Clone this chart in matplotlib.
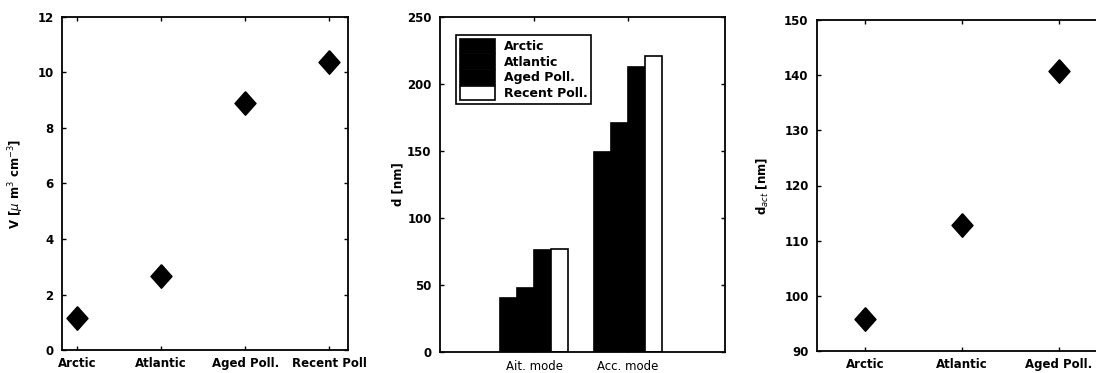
import matplotlib.pyplot as plt
import numpy as np

plt.rcParams['font.family'] = ['DejaVu Sans']

# air mass categories
masses = ['Arctic', 'Atlantic', 'Aged Poll.', 'Recent Poll']
volume = [1.16, 2.65, 8.9, 10.37]  # V [um^3 cm^-3]

modes = ['Ait. mode', 'Acc. mode']
legend_names = ['Arctic', 'Atlantic', 'Aged Poll.', 'Recent Poll.']
d_arctic = [40, 149]
d_atlantic = [48, 171]
d_aged = [76, 213]
d_recent = [77, 221]

act_masses = ['Arctic', 'Atlantic', 'Aged Poll.']
d_act = [95.8, 112.8, 140.8]

# slightly tall diamond like the matlab marker
diamond = [(0, 1), (0.89, 0), (0, -1), (-0.89, 0), (0, 1)]

fig = plt.figure(figsize=(10.96, 3.73), dpi=100)


def style_axes(ax, bold_x=True):
    ax.tick_params(direction='in', length=3, width=1, top=True, right=True,
                   labelsize=8.5, pad=6)
    for lab in ax.get_yticklabels():
        lab.set_fontweight('bold')
    if bold_x:
        for lab in ax.get_xticklabels():
            lab.set_fontweight('bold')
    for s in ax.spines.values():
        s.set_linewidth(1.3)


# panel 1: volume
ax1 = fig.add_axes([62 / 1096, 23 / 373, 286 / 1096, 333 / 373])
x1 = np.arange(1, len(masses) + 1)
ax1.plot(x1, volume, marker=diamond, color='k', ms=17, linestyle='none')
ax1.set_xlim(0.82, 4.22)
ax1.set_ylim(0, 12)
ax1.set_yticks(range(0, 13, 2))
ax1.set_xticks(x1)
ax1.set_xticklabels(masses)
ax1.set_ylabel(r'V [$\mu$ m$^3$ cm$^{-3}$]', fontsize=8.5, fontweight='bold')
ax1.yaxis.set_label_coords(-0.125, 0.5)
style_axes(ax1)
ax1.tick_params(axis='x', pad=5)

# panel 2: mode diameters
ax2 = fig.add_axes([440 / 1096, 21 / 373, 285 / 1096, 335 / 373])
x2 = np.arange(1, len(modes) + 1)
w = 0.18
series = [d_arctic, d_atlantic, d_aged, d_recent]
colors = ['k', 'k', 'k', 'white']
for i, (vals, c, name) in enumerate(zip(series, colors, legend_names)):
    ax2.bar(x2 + (i - 1.5) * w, vals, width=w, color=c, edgecolor='k',
            linewidth=1.2, label=name)
ax2.set_xlim(0, 3.03)
ax2.set_ylim(0, 250)
ax2.set_yticks(range(0, 251, 50))
ax2.set_xticks(x2)
ax2.set_xticklabels(modes)
ax2.set_ylabel('d [nm]', fontsize=8.5, fontweight='bold')
ax2.yaxis.set_label_coords(-0.125, 0.5)
style_axes(ax2, bold_x=False)
ax2.tick_params(axis='x', pad=6)
leg = ax2.legend(loc='upper left', bbox_to_anchor=(0.035, 0.965), fontsize=9,
                 handlelength=2.8, handleheight=1.4, labelspacing=0.1,
                 handletextpad=0.7, borderpad=0.3, fancybox=False,
                 edgecolor='k', framealpha=1)
leg.get_frame().set_linewidth(1.2)
for t in leg.get_texts():
    t.set_fontweight('bold')

# panel 3: activation diameter
ax3 = fig.add_axes([817 / 1096, 22 / 373, 290 / 1096, 331 / 373])
x3 = np.arange(1, len(act_masses) + 1)
ax3.plot(x3, d_act, marker=diamond, color='k', ms=17, linestyle='none')
ax3.set_xlim(0.5, 3.5)
ax3.set_ylim(90, 150)
ax3.set_yticks(range(90, 151, 10))
ax3.set_xticks(x3)
ax3.set_xticklabels(act_masses)
ax3.set_ylabel(r'd$_{act}$ [nm]', fontsize=8.5, fontweight='bold')
ax3.yaxis.set_label_coords(-0.16, 0.5)
style_axes(ax3)
ax3.tick_params(axis='x', pad=5)

fig.savefig('out.png', dpi=100)
